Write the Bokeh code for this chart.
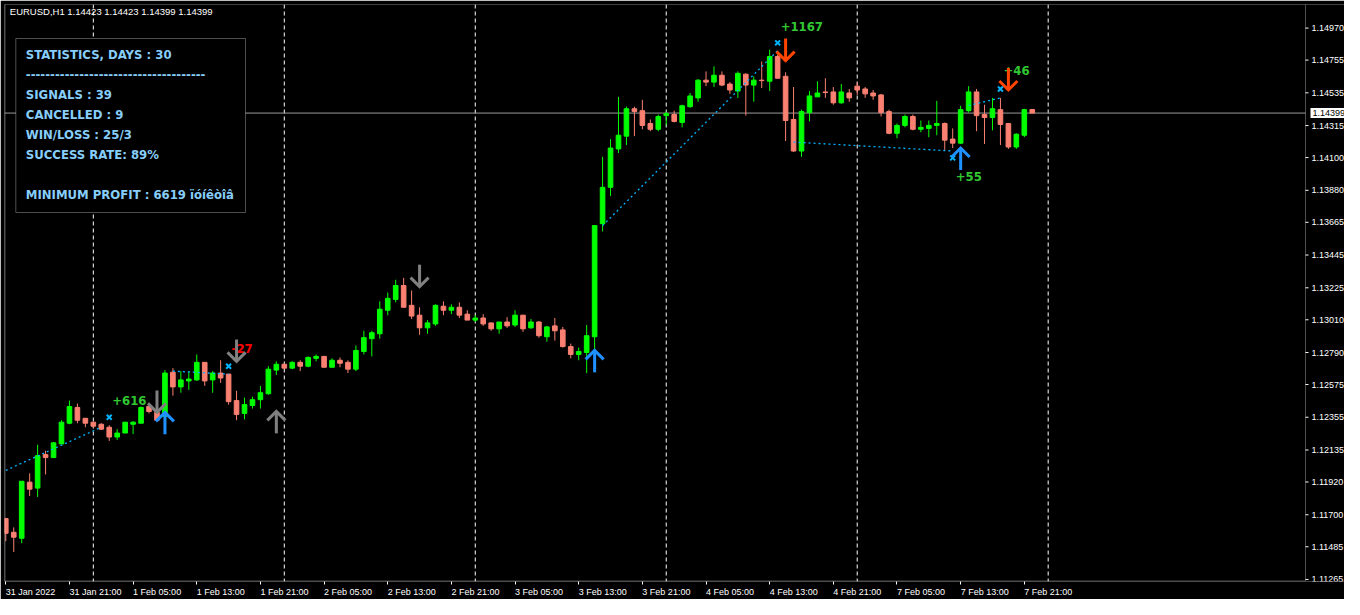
import numpy as np
from bokeh.plotting import figure
from bokeh.models import (Range1d, FixedTicker, Span, BoxAnnotation, Label, ColumnDataSource)
from bokeh.core.properties import value
from bokeh.embed import file_html
from bokeh.resources import INLINE

# ---------------- data (EURUSD H1, bar 0 = 31 Jan 2022 13:00) ----------------
opens = [1.11674, 1.11582, 1.11542, 1.11919, 1.11879, 1.12104, 1.12084, 1.12176, 1.12315, 1.12421,
         1.12348, 1.12322, 1.12308, 1.12288, 1.12222, 1.12249, 1.12308, 1.12315, 1.12427, 1.12388,
         1.12361, 1.12658, 1.12559, 1.12599, 1.12606, 1.12724, 1.12606, 1.12652, 1.12645, 1.12467,
         1.12381, 1.12434, 1.12473, 1.12513, 1.12672, 1.12711, 1.12685, 1.12724, 1.12698, 1.12751,
         1.12764, 1.12691, 1.12738, 1.12724, 1.12678, 1.12797, 1.12883, 1.12916, 1.13074, 1.13147,
         1.13240, 1.13107, 1.13041, 1.12956, 1.12982, 1.13101, 1.13074, 1.13094, 1.13048, 1.13008,
         1.13022, 1.12989, 1.12949, 1.12995, 1.12975, 1.13041, 1.12956, 1.12995, 1.12896, 1.12969,
         1.12942, 1.12830, 1.12777, 1.12790, 1.12896, 1.13656, 1.13900, 1.14158, 1.14244, 1.14428,
         1.14415, 1.14329, 1.14290, 1.14382, 1.14389, 1.14336, 1.14442, 1.14501, 1.14620, 1.14607,
         1.14653, 1.14594, 1.14547, 1.14660, 1.14587, 1.14620, 1.14613, 1.14779, 1.14646, 1.14356,
         1.14144, 1.14402, 1.14508, 1.14541, 1.14541, 1.14468, 1.14534, 1.14580, 1.14561, 1.14534,
         1.14521, 1.14409, 1.14263, 1.14316, 1.14376, 1.14290, 1.14296, 1.14316, 1.14329, 1.14224,
         1.14197, 1.14415, 1.14541, 1.14389, 1.14369, 1.14422, 1.14329, 1.14171, 1.14250, 1.14423]
highs = [1.11674, 1.11615, 1.11925, 1.11978, 1.12170, 1.12130, 1.12189, 1.12335, 1.12467, 1.12447,
         1.12348, 1.12322, 1.12315, 1.12302, 1.12275, 1.12322, 1.12328, 1.12427, 1.12440, 1.12394,
         1.12672, 1.12685, 1.12665, 1.12665, 1.12777, 1.12724, 1.12665, 1.12738, 1.12645, 1.12533,
         1.12487, 1.12493, 1.12566, 1.12698, 1.12731, 1.12718, 1.12731, 1.12738, 1.12764, 1.12777,
         1.12764, 1.12751, 1.12757, 1.12738, 1.12837, 1.12936, 1.12936, 1.13134, 1.13193, 1.13279,
         1.13292, 1.13207, 1.13094, 1.13008, 1.13114, 1.13134, 1.13114, 1.13127, 1.13074, 1.13041,
         1.13048, 1.12989, 1.12995, 1.13028, 1.13074, 1.13041, 1.13015, 1.13002, 1.12969, 1.13022,
         1.12962, 1.12850, 1.12823, 1.12975, 1.13643, 1.14105, 1.14224, 1.14508, 1.14442, 1.14442,
         1.14488, 1.14356, 1.14389, 1.14409, 1.14415, 1.14455, 1.14534, 1.14627, 1.14679, 1.14713,
         1.14679, 1.14607, 1.14679, 1.14666, 1.14646, 1.14746, 1.14825, 1.14792, 1.14673, 1.14574,
         1.14422, 1.14547, 1.14613, 1.14633, 1.14574, 1.14594, 1.14561, 1.14607, 1.14574, 1.14554,
         1.14528, 1.14422, 1.14329, 1.14389, 1.14389, 1.14349, 1.14349, 1.14481, 1.14336, 1.14296,
         1.14448, 1.14580, 1.14561, 1.14455, 1.14501, 1.14501, 1.14329, 1.14263, 1.14428, 1.14423]
lows = [1.11522, 1.11450, 1.11509, 1.11826, 1.11820, 1.11971, 1.12084, 1.12176, 1.12308, 1.12315,
        1.12288, 1.12282, 1.12269, 1.12196, 1.12203, 1.12249, 1.12242, 1.12315, 1.12381, 1.12328,
        1.12355, 1.12500, 1.12520, 1.12539, 1.12599, 1.12566, 1.12520, 1.12586, 1.12440, 1.12335,
        1.12341, 1.12414, 1.12414, 1.12506, 1.12639, 1.12678, 1.12678, 1.12665, 1.12691, 1.12731,
        1.12691, 1.12691, 1.12691, 1.12652, 1.12665, 1.12777, 1.12764, 1.12883, 1.13041, 1.13127,
        1.13094, 1.13015, 1.12909, 1.12916, 1.12969, 1.13041, 1.13048, 1.13022, 1.13008, 1.12995,
        1.12969, 1.12936, 1.12916, 1.12956, 1.12962, 1.12929, 1.12949, 1.12890, 1.12863, 1.12870,
        1.12823, 1.12751, 1.12738, 1.12652, 1.12797, 1.13603, 1.13841, 1.14131, 1.14184, 1.14244,
        1.14290, 1.14277, 1.14277, 1.14316, 1.14336, 1.14303, 1.14435, 1.14475, 1.14580, 1.14574,
        1.14580, 1.14528, 1.14501, 1.14382, 1.14475, 1.14567, 1.14547, 1.14633, 1.14211, 1.14138,
        1.14105, 1.14343, 1.14508, 1.14501, 1.14455, 1.14461, 1.14475, 1.14521, 1.14501, 1.14488,
        1.14376, 1.14257, 1.14230, 1.14303, 1.14283, 1.14270, 1.14237, 1.14250, 1.14151, 1.14164,
        1.14191, 1.14402, 1.14277, 1.14191, 1.14283, 1.14184, 1.14158, 1.14158, 1.14237, 1.14399]
closes = [1.11575, 1.11549, 1.11925, 1.11872, 1.12097, 1.12084, 1.12183, 1.12322, 1.12427, 1.12335,
          1.12315, 1.12295, 1.12275, 1.12222, 1.12249, 1.12322, 1.12322, 1.12421, 1.12394, 1.12335,
          1.12652, 1.12559, 1.12606, 1.12612, 1.12724, 1.12599, 1.12652, 1.12619, 1.12460, 1.12374,
          1.12440, 1.12473, 1.12520, 1.12678, 1.12711, 1.12685, 1.12724, 1.12698, 1.12757, 1.12764,
          1.12691, 1.12738, 1.12718, 1.12678, 1.12804, 1.12890, 1.12923, 1.13081, 1.13154, 1.13240,
          1.13094, 1.13035, 1.12956, 1.12989, 1.13107, 1.13074, 1.13094, 1.13041, 1.13008, 1.13022,
          1.12982, 1.12949, 1.12995, 1.12969, 1.13041, 1.12949, 1.12995, 1.12903, 1.12962, 1.12936,
          1.12830, 1.12777, 1.12797, 1.12903, 1.13643, 1.13900, 1.14164, 1.14250, 1.14428, 1.14409,
          1.14316, 1.14290, 1.14376, 1.14395, 1.14343, 1.14448, 1.14514, 1.14620, 1.14607, 1.14653,
          1.14587, 1.14554, 1.14666, 1.14587, 1.14620, 1.14617, 1.14779, 1.14633, 1.14349, 1.14144,
          1.14409, 1.14514, 1.14534, 1.14537, 1.14468, 1.14541, 1.14501, 1.14554, 1.14528, 1.14514,
          1.14402, 1.14263, 1.14316, 1.14376, 1.14290, 1.14303, 1.14316, 1.14329, 1.14217, 1.14197,
          1.14422, 1.14541, 1.14382, 1.14369, 1.14428, 1.14323, 1.14171, 1.14257, 1.14422, 1.14399]

time_tick_bars = [0, 8, 16, 24, 32, 40, 48, 56, 64, 72, 80, 88, 96, 104, 112, 120, 128]
time_tick_labels = ["31 Jan 2022", "31 Jan 21:00", "1 Feb 05:00", "1 Feb 13:00", "1 Feb 21:00",
                    "2 Feb 05:00", "2 Feb 13:00", "2 Feb 21:00", "3 Feb 05:00", "3 Feb 13:00",
                    "3 Feb 21:00", "4 Feb 05:00", "4 Feb 13:00", "4 Feb 21:00", "7 Feb 05:00",
                    "7 Feb 13:00", "7 Feb 21:00"]
day_start_bars = [11, 35, 59, 83, 107, 131]
price_ticks = [1.14970, 1.14755, 1.14535, 1.14315, 1.14100, 1.13880, 1.13665, 1.13445, 1.13225,
               1.13010, 1.12790, 1.12575, 1.12355, 1.12135, 1.11920, 1.11700, 1.11485, 1.11265]
symbol = "EURUSD,H1"
last_ohlc = [1.14423, 1.14423, 1.14399, 1.14399]
bid = 1.14399

# signal arrows
arrow_bars = [19, 20, 29, 34, 52, 74, 98, 120, 126]
arrow_dirs = ["down", "up", "down", "up", "down", "up", "down", "up", "down"]
arrow_tips = [1.12388, 1.12388, 1.12731, 1.12394, 1.13233, 1.12804, 1.14752, 1.14164, 1.14554]
arrow_kinds = ["cancelled", "buy", "cancelled", "cancelled", "cancelled", "buy", "sell", "buy", "sell"]

# trade lines (entry -> exit) and exit marks
trade_start_bars = [0, 21, 75, 99, 121]
trade_start_prices = [1.11998, 1.12665, 1.13643, 1.14204, 1.14450]
trade_end_bars = [12, 28, 97, 119, 125]
trade_end_prices = [1.12288, 1.12645, 1.14818, 1.14144, 1.14501]
exit_bars = [13, 28, 97, 119, 125]
exit_prices = [1.12355, 1.12698, 1.14871, 1.14098, 1.14561]
result_prices = [1.12467, 1.12817, 1.14980, 1.13973, 1.14683]
result_texts = ["+616", "-27", "+1167", "+55", "+46"]

stats_lines = ["STATISTICS, DAYS : 30", "-" * 37, "SIGNALS : 39", "CANCELLED : 9",
               "WIN/LOSS : 25/3", "SUCCESS RATE: 89%", "MINIMUM PROFIT : 6619 ïóíêòîâ"]

# ---------------- styling / layout ----------------
W, H = 1344, 599
BL, BT, BB = 4, 4, 16
FRAME_W, FRAME_H = W - BL, H - BT - BB
X_START = -0.1625          # bar under the chart's left edge
BORDER_BAR = 163.3375      # bar under the chart's right border (price scale starts here)
BORDER_PX = 1301.0         # border position inside the frame
PX_X = BORDER_PX / (BORDER_BAR - X_START)
X_END = X_START + FRAME_W / PX_X
Y0, Y1 = 1.112514, 1.151285
PX_Y = FRAME_H / (Y1 - Y0)
BULL, BEAR = "#00FF00", "#FA8072"
SMALL_FONT = "Liberation Sans"
BIG_FONT = "DejaVu Sans Condensed, Roboto, sans-serif"
KIND_COLOR = {"cancelled": "#808080", "buy": "#1E90FF", "sell": "#FF4500"}
TRADE_COLOR = "#00B4FF"

p = figure(width=W, height=H, output_backend="svg", toolbar_location=None,
           x_range=Range1d(X_START, X_END), y_range=Range1d(Y0, Y1),
           y_axis_location=None, min_border_left=BL, min_border_top=BT,
           min_border_right=0, min_border_bottom=BB,
           background_fill_color="black", border_fill_color="black",
           outline_line_color=None)
p.xgrid.visible = False
p.ygrid.visible = False

# separators (behind everything)
for b in day_start_bars:
    p.add_layout(Span(location=b, dimension="height", line_color="white", line_width=1,
                      line_dash="4 3", level="underlay"))
# bid line
p.segment(x0=[X_START], y0=[bid], x1=[BORDER_BAR], y1=[bid], line_color="#9A9A9A", line_width=1)

# candles
o = np.array(opens)
c = np.array(closes)
idx = np.arange(len(o))
cols = np.where(c >= o, BULL, BEAR)
src = ColumnDataSource(dict(x=idx, h=highs, l=lows, top=np.maximum(o, c),
                            bottom=np.minimum(o, c), color=cols))
p.segment("x", "h", "x", "l", color="color", line_width=1, source=src)
p.vbar("x", 0.58, "top", "bottom", fill_color="color", line_color="color", line_width=1, source=src)

# trade lines
p.segment(x0=trade_start_bars, y0=trade_start_prices, x1=trade_end_bars, y1=trade_end_prices,
          line_color=TRADE_COLOR, line_width=1.3, line_dash="2 3")
p.scatter(exit_bars, exit_prices, marker="x", size=7, line_width=2, line_color=TRADE_COLOR)

# result texts
res_src = ColumnDataSource(dict(x=exit_bars, y=result_prices, t=result_texts,
                                col=["#FF0000" if t.startswith("-") else "#32C832" for t in result_texts]))
p.text("x", "y", "t", source=res_src, text_color="col", text_font=value(BIG_FONT),
       text_font_style="bold", text_font_size="13px", text_baseline="middle",
       text_align="left", x_offset=3)

# arrows
xs, ys, acol = [], [], []
L_SHAFT, HEAD = 22.0, 9.0
for b, d, tp, k in zip(arrow_bars, arrow_dirs, arrow_tips, arrow_kinds):
    s = 1.0 if d == "up" else -1.0
    tail = tp - s * L_SHAFT / PX_Y
    arm = tp - s * HEAD / PX_Y
    dx = HEAD / PX_X
    xs += [[b, b], [b - dx, b, b + dx]]
    ys += [[tail, tp], [arm, tp, arm]]
    acol += [KIND_COLOR[k]] * 2
p.multi_line(xs, ys, line_color=acol, line_width=3, line_join="miter", line_cap="butt")

# price scale (drawn inside the frame, right of the chart border)
n = len(price_ticks)
p.segment(x0=[BORDER_BAR] * n, y0=price_ticks, x1=[BORDER_BAR + 3 / PX_X] * n, y1=price_ticks,
          line_color="white", line_width=1)
p.text(x=[BORDER_BAR] * n, y=price_ticks, text=["%.5f" % v for v in price_ticks],
       x_offset=6, text_color="white", text_font=value(SMALL_FONT), text_font_size="9px",
       text_baseline="middle", text_align="left")
p.text(x=[BORDER_BAR], y=[bid], text=["%.5f" % bid], x_offset=5, text_color="black",
       text_font=value(SMALL_FONT), text_font_size="9px", text_baseline="middle",
       text_align="left", background_fill_color="white", padding=2)

# chart border
p.add_layout(BoxAnnotation(left=0.5, right=BORDER_PX, top=FRAME_H - 0.5, bottom=0.5,
                           left_units="screen", right_units="screen", top_units="screen",
                           bottom_units="screen", fill_alpha=0, line_color="white", line_width=1))

# time axis
CW = {" ": .278, ":": .278, "J": .5, "F": .611}
def text_w(t, size=9.0):
    return sum(CW.get(ch, .556) for ch in t) * size

centers = [round(b + text_w(t) / 2 / PX_X, 4) for b, t in zip(time_tick_bars, time_tick_labels)]
p.xaxis.ticker = FixedTicker(ticks=centers, minor_ticks=time_tick_bars)
p.xaxis.major_label_overrides = {cc: t for cc, t in zip(centers, time_tick_labels)}
p.xaxis.axis_line_color = None
p.xaxis.major_tick_line_color = None
p.xaxis.major_tick_out = 3
p.xaxis.major_tick_in = 0
p.xaxis.minor_tick_line_color = "white"
p.xaxis.minor_tick_out = 3
p.xaxis.minor_tick_in = 0
p.xaxis.major_label_standoff = 2
p.xaxis.major_label_text_color = "white"
p.xaxis.major_label_text_font = SMALL_FONT
p.xaxis.major_label_text_font_size = "9px"

# title
title = "%s  %s" % (symbol, " ".join("%.5f" % v for v in last_ohlc))
p.add_layout(Label(x=5.3, y=FRAME_H - 8.7, x_units="screen", y_units="screen", text=title,
                   text_color="white", text_font=SMALL_FONT, text_font_size="9.5px",
                   text_baseline="middle", text_align="left"))

# statistics panel
p.add_layout(BoxAnnotation(left=11.3, right=241, top=FRAME_H - 36, bottom=FRAME_H - 210,
                           left_units="screen", right_units="screen", top_units="screen",
                           bottom_units="screen", fill_color="black", fill_alpha=1,
                           line_color="white", line_width=1))
line_offsets = [51.5, 72, 92, 112, 132, 151.5, 191.5]
for t, off in zip(stats_lines, line_offsets):
    p.add_layout(Label(x=21.3, y=FRAME_H - off, x_units="screen", y_units="screen", text=t,
                       text_color="#87CEFA", text_font=BIG_FONT, text_font_style="bold",
                       text_font_size="13px", text_baseline="middle", text_align="left"))

open("out.html", "w").write(file_html(p, INLINE))
